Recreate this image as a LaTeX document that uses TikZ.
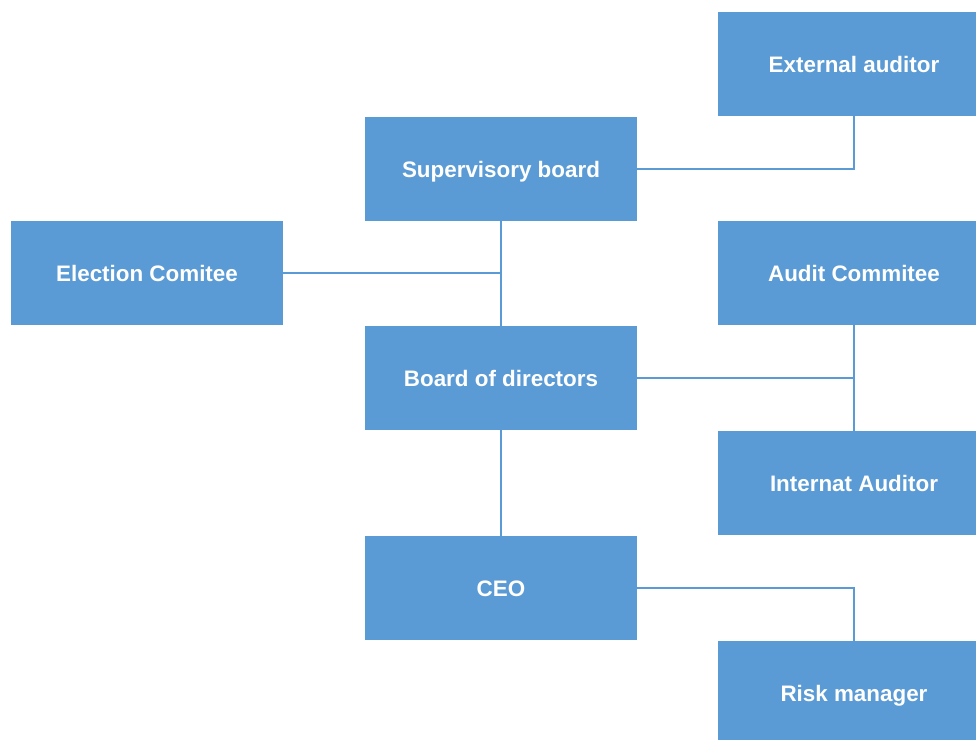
\documentclass[tikz,border=0pt]{standalone}
\usepackage{fontspec}
\setmainfont{Liberation Sans}
\usetikzlibrary{positioning, calc}
\definecolor{boxBlue}{HTML}{5B9BD5}
\tikzset{
    orgbox/.style={fill=boxBlue, draw=none, text=white, font=\bfseries\fontsize{11.2}{13}\selectfont,
        minimum width=136pt, minimum height=52pt, inner sep=0pt, align=center,
        text height=8pt, text depth=0pt},
    link/.style={draw=boxBlue, line width=0.6pt}
}

\begin{document}
\begin{tikzpicture}[x=0.5pt, y=-0.5pt]
        \useasboundingbox (0,0) rectangle (976,740);
        % Middle column
        \node[orgbox] (sup) at (501,169) {Supervisory board};
        \node[orgbox] (board) at (501,378) {Board of directors};
        \node[orgbox] (ceo) at (501,588) {CEO};
        
        % Left
        \node[orgbox] (elec) at (147,273) {Election Comitee};
        
        % Right column (cut at the edge)
        \node[orgbox] (ext) at (854,64) {External auditor};
        \node[orgbox] (audit) at (854,273) {Audit Commitee};
        \node[orgbox] (intern) at (854,483) {Internat Auditor};
        \node[orgbox] (risk) at (854,693) {Risk manager};
        
        % Connectors
        \draw[link] (sup.east) -| (ext.south);
        \draw[link] (sup.south) -- (board.north);
        \draw[link] (elec.east) -- (elec.east -| sup.south);
        \draw[link] (board.east) -- (board.east -| audit.south);
        \draw[link] (audit.south) -- (intern.north);
        \draw[link] (board.south) -- (ceo.north);
        \draw[link] (ceo.east) -| (risk.north);
    \end{tikzpicture}
\end{document}
